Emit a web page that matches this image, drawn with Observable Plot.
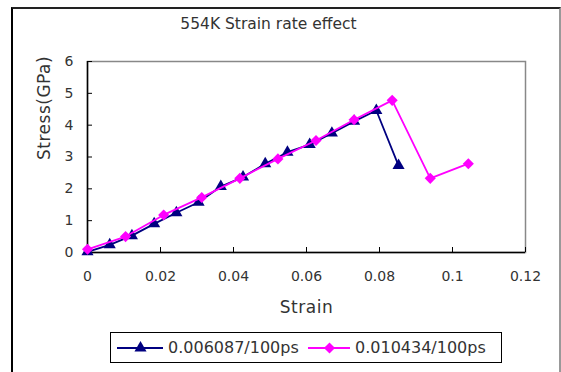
<!DOCTYPE html>
<html>
<head>
<meta charset="utf-8">
<script src="https://cdn.jsdelivr.net/npm/d3@7"></script>
<script src="https://cdn.jsdelivr.net/npm/@observablehq/plot@0.6"></script>
<style>
  body { margin: 0; background: #fff; }
  #chart { position: relative; width: 561px; height: 372px; overflow: hidden; font-family: "DejaVu Sans", sans-serif; color: #333; }
  #frame { position: absolute; left: 11px; top: 7px; width: 546px; height: 420px; border-left: 2px solid #000; border-top: 2px solid #222; border-right: 2px solid #999; }
  #title { position: absolute; left: 0; width: 537px; top: 14px; text-align: center; font-size: 15.5px; line-height: 20px; }
  #chart svg.plot { position: absolute; left: 0; top: 0; }
  #legend { position: absolute; left: 110px; top: 332px; width: 390px; height: 29px; border: 1px solid #000; background: #fff; }
  #legend .item { position: absolute; top: 0; height: 29px; display: flex; align-items: center; font-size: 16px; }
  #legend svg { display: block; }
</style>
</head>
<body>
<div id="chart">
  <div id="frame"></div>
  <div id="title"></div>
  <div id="legend"></div>
</div>
<script>
const titleText = "554K Strain rate effect";
const xTitle = "Strain";
const yTitle = "Stress(GPa)";
const seriesNames = ["0.006087/100ps", "0.010434/100ps"];
const seriesColors = ["#000080", "#ff00ff"];
const seriesSymbols = ["triangle", "diamond2"];

const strainA = [0, 0.006087, 0.012174, 0.018261, 0.024348, 0.030435, 0.036522, 0.042609, 0.048696, 0.054783, 0.06087, 0.066957, 0.073044, 0.079131, 0.085218];
const stressA = [0.02, 0.24, 0.53, 0.90, 1.25, 1.58, 2.07, 2.37, 2.79, 3.15, 3.39, 3.75, 4.12, 4.46, 2.73];
const strainB = [0, 0.010434, 0.020868, 0.031302, 0.041736, 0.05217, 0.062604, 0.073038, 0.083472, 0.093906, 0.10434];
const stressB = [0.10, 0.50, 1.18, 1.73, 2.33, 2.94, 3.52, 4.17, 4.78, 2.33, 2.79];

const xTicks = [0, 0.02, 0.04, 0.06, 0.08, 0.1, 0.12];
const xTickLabels = ["0", "0.02", "0.04", "0.06", "0.08", "0.1", "0.12"];
const yTicks = [0, 1, 2, 3, 4, 5, 6];
const yTickLabels = ["0", "1", "2", "3", "4", "5", "6"];

const A = strainA.map((x, i) => ({x, y: stressA[i]}));
const B = strainB.map((x, i) => ({x, y: stressB[i]}));

const W = 561, H = 372;
const mL = 87, mR = 36, mT = 61, mB = 120;
const fw = W - mL - mR, fh = H - mT - mB;

document.getElementById("title").textContent = titleText;

const plot = Plot.plot({
  width: W, height: H,
  marginLeft: mL, marginRight: mR, marginTop: mT, marginBottom: mB,
  style: {fontFamily: "DejaVu Sans, sans-serif", fontSize: "14px", color: "#333", background: "transparent", overflow: "visible"},
  x: {domain: [0, 0.12]},
  y: {domain: [0, 6]},
  marks: [
    Plot.frame({stroke: "#888", strokeWidth: 1.5}),
    Plot.ruleX([0], {stroke: "#000", strokeWidth: 1.5}),
    Plot.ruleY([0], {stroke: "#000", strokeWidth: 1.5}),
    Plot.ruleX(xTicks, {stroke: "#000", insetTop: fh - 5}),
    Plot.ruleY(yTicks, {stroke: "#000", insetRight: fw - 5}),
    Plot.axisX({ticks: xTicks, tickSize: 0, tickPadding: 19, tickFormat: (d, i) => xTickLabels[i], label: null, fontSize: 14}),
    Plot.axisY({ticks: yTicks, tickSize: 0, tickPadding: 14, tickFormat: (d, i) => yTickLabels[i], label: null, fontSize: 14}),
    Plot.text([xTitle], {frameAnchor: "bottom", dy: 55, fontSize: 17, text: d => d, lineAnchor: "middle", fill: "#333"}),
    Plot.text([yTitle], {frameAnchor: "left", dx: -43, dy: 3, rotate: -90, fontSize: 17, text: d => d, lineAnchor: "middle", fill: "#333"}),
    Plot.line(A, {x: "x", y: "y", stroke: seriesColors[0], strokeWidth: 1.8}),
    Plot.dot(A, {x: "x", y: "y", symbol: seriesSymbols[0], r: 4.5, fill: seriesColors[0], stroke: "none"}),
    Plot.line(B, {x: "x", y: "y", stroke: seriesColors[1], strokeWidth: 1.8}),
    Plot.dot(B, {x: "x", y: "y", symbol: seriesSymbols[1], r: 5, fill: seriesColors[1], stroke: "none"})
  ]
});
plot.querySelectorAll("text").forEach(t => t.style.letterSpacing = t.textContent === xTitle || t.textContent === yTitle ? "0.5px" : null);
document.getElementById("chart").insertBefore(plot, document.getElementById("legend"));

// legend
const legend = document.getElementById("legend");
const lefts = [6, 197];
const lineW = [46, 42];
seriesNames.forEach((name, i) => {
  const item = document.createElement("div");
  item.className = "item";
  item.style.left = lefts[i] + "px";
  const sym = Plot.plot({
    width: lineW[i], height: 29, margin: 0,
    x: {domain: [0, 1]}, y: {domain: [0, 1]},
    axis: null,
    style: {background: "transparent"},
    marks: [
      Plot.ruleY([0.5], {stroke: seriesColors[i], strokeWidth: 1.8}),
      Plot.dot([0], {x: () => 0.5, y: () => 0.5, symbol: seriesSymbols[i], r: i === 0 ? 4.5 : 5, fill: seriesColors[i], stroke: "none"})
    ]
  });
  item.appendChild(sym);
  const label = document.createElement("span");
  label.textContent = name;
  label.style.marginLeft = "5px";
  item.appendChild(label);
  legend.appendChild(item);
});
</script>
</body>
</html>
